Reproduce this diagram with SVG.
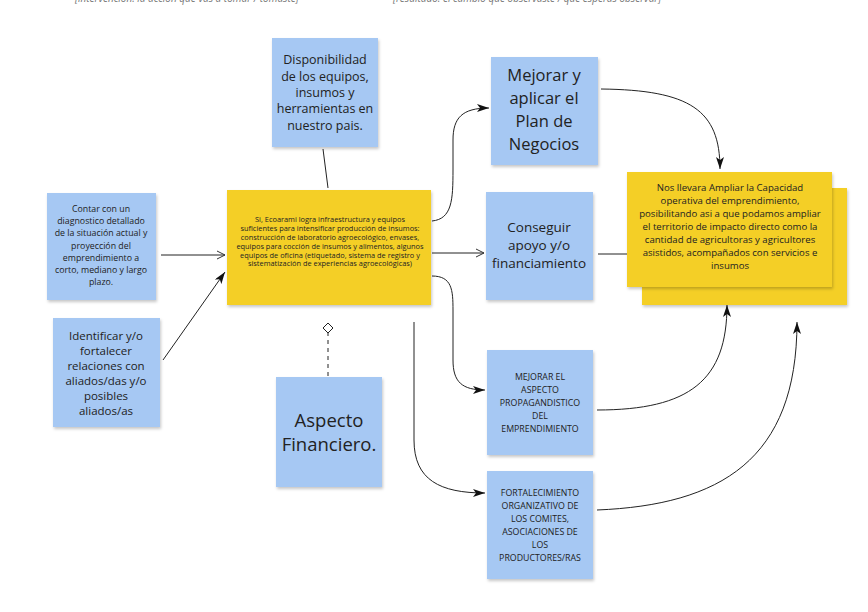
<svg xmlns="http://www.w3.org/2000/svg" width="868" height="612" viewBox="0 0 868 612">
<defs>
  <filter id="sh" x="-10%" y="-10%" width="130%" height="130%">
    <feDropShadow dx="1" dy="2" stdDeviation="1.5" flood-color="#000" flood-opacity="0.22"/>
  </filter>
  <marker id="fill" viewBox="0 0 12 8" refX="12" refY="4" markerWidth="12" markerHeight="8" markerUnits="userSpaceOnUse" orient="auto">
    <path d="M0,0 L12,4 L0,8 L3,4 Z" fill="#111"/>
  </marker>
  <marker id="open" viewBox="0 0 10 10" refX="9" refY="5" markerWidth="10" markerHeight="10" markerUnits="userSpaceOnUse" orient="auto">
    <path d="M1,1 L9,5 L1,9" fill="none" stroke="#333" stroke-width="1"/>
  </marker>
  <marker id="diam" viewBox="0 0 12 12" refX="11" refY="6" markerWidth="12" markerHeight="12" markerUnits="userSpaceOnUse" orient="auto">
    <path d="M1,6 L6,1 L11,6 L6,11 Z" fill="#fff" stroke="#222" stroke-width="1"/>
  </marker>
</defs>
<style>
  .blue{fill:#a6c8f3;filter:url(#sh)}
  .yel{fill:#f4cf26;filter:url(#sh)}
  text{font-family:"Open Sans","Noto Sans","Liberation Sans",sans-serif;text-anchor:middle;fill:#222}
  .c{fill:none;stroke:#222;stroke-width:1}
  .hdr{font-style:italic;fill:#777;font-size:10px;text-anchor:start}
</style>
<rect width="868" height="612" fill="#fff"/>
<text class="hdr" x="75" y="2">[intervención: la acción que vas a tomar / tomaste]</text>
<text class="hdr" x="393" y="2">[resultado: el cambio que observaste / que esperas observar]</text>

<g id="connectors">
  <path class="c" d="M161,255 L225,255" marker-end="url(#open)"/>
  <path class="c" d="M163,360 L225,272" marker-end="url(#fill)"/>
  <path class="c" d="M323,149 L328,188"/>
  <path class="c" d="M328,376 L328,323" stroke-dasharray="4,4" marker-end="url(#diam)"/>
  <path class="c" d="M432,221 C452,219 453,200 453,170 L453,140 C453,118 462,108 489,108" marker-end="url(#fill)"/>
  <path class="c" d="M432,253 L484,253" marker-end="url(#open)"/>
  <path class="c" d="M432,276 C452,276 453,290 453,310 L453,360 C453,382 462,390 485,390" marker-end="url(#fill)"/>
  <path class="c" d="M414,322 L414,440 C414,480 440,493 485,493" marker-end="url(#fill)"/>
  <path class="c" d="M601,89 C690,90 720,110 720,169" marker-end="url(#fill)"/>
  <path class="c" d="M598,254 L627,254" stroke="#888"/>
  <path class="c" d="M597,410 C690,410 727,380 727,305" marker-end="url(#fill)"/>
  <path class="c" d="M597,510 C720,505 797,460 797,322" marker-end="url(#fill)"/>
</g>

<g id="disponibilidad">
  <rect class="blue" x="272" y="38" width="106" height="109"/>
  <text font-size="12.5"><tspan x="325" y="64">Disponibilidad</tspan><tspan x="325" y="81">de los equipos,</tspan><tspan x="325" y="97">insumos y</tspan><tspan x="325" y="113">herramientas en</tspan><tspan x="325" y="130">nuestro pais.</tspan></text>
</g>

<g id="mejorar-plan">
  <rect class="blue" x="491" y="57" width="107" height="108"/>
  <text font-size="16.5"><tspan x="544" y="81">Mejorar y</tspan><tspan x="544" y="104">aplicar el</tspan><tspan x="544" y="127">Plan de</tspan><tspan x="544" y="150">Negocios</tspan></text>
</g>

<g id="conseguir">
  <rect class="blue" x="486" y="192" width="107" height="108"/>
  <text font-size="13.5"><tspan x="539" y="232">Conseguir</tspan><tspan x="539" y="250">apoyo y/o</tspan><tspan x="539" y="268">financiamiento</tspan></text>
</g>

<g id="central">
  <rect class="yel" x="227" y="190" width="204" height="115"/>
  <text font-size="7.4" fill="#2a2a2a"><tspan x="330" y="222">Si, Ecoarami logra infraestructura y equipos</tspan><tspan x="330" y="231">suficientes  para intensificar producción de insumos:</tspan><tspan x="330" y="240">construcción de laboratorio agroecológico, envases,</tspan><tspan x="330" y="249">equipos para cocción de insumos y alimentos, algunos</tspan><tspan x="330" y="257.5">equipos de oficina (etiquetado, sistema de registro y</tspan><tspan x="330" y="266">sistematización de experiencias agroecológicas)</tspan></text>
</g>

<g id="resultado">
  <rect class="yel" x="642" y="188" width="205" height="117"/>
  <rect class="yel" x="627" y="172" width="205" height="115"/>
  <text font-size="9.6"><tspan x="730" y="191">Nos llevara Ampliar la Capacidad</tspan><tspan x="730" y="204">operativa del emprendimiento,</tspan><tspan x="730" y="217">posibilitando asi a que podamos ampliar</tspan><tspan x="730" y="230">el territorio de impacto directo como la</tspan><tspan x="730" y="243">cantidad de agricultoras y agricultores</tspan><tspan x="730" y="256">asistidos, acompañados con servicios e</tspan><tspan x="730" y="269">insumos</tspan></text>
</g>

<g id="contar">
  <rect class="blue" x="47" y="193" width="109" height="107"/>
  <text font-size="8.8"><tspan x="101" y="212">Contar con un</tspan><tspan x="101" y="224">diagnostico detallado</tspan><tspan x="101" y="236">de la situación actual y</tspan><tspan x="101" y="249">proyección del</tspan><tspan x="101" y="261">emprendimiento a</tspan><tspan x="101" y="273">corto, mediano y largo</tspan><tspan x="101" y="285">plazo.</tspan></text>
</g>

<g id="identificar">
  <rect class="blue" x="53" y="318" width="107" height="109"/>
  <text font-size="11.5"><tspan x="106" y="340">Identificar y/o</tspan><tspan x="106" y="355">fortalecer</tspan><tspan x="106" y="370">relaciones con</tspan><tspan x="106" y="385">aliados/das y/o</tspan><tspan x="106" y="400">posibles</tspan><tspan x="106" y="415">aliados/as</tspan></text>
</g>

<g id="aspecto-financiero">
  <rect class="blue" x="276" y="377" width="106" height="110"/>
  <text font-size="18.5"><tspan x="329" y="427">Aspecto</tspan><tspan x="329" y="451">Financiero.</tspan></text>
</g>

<g id="propagandistico">
  <rect class="blue" x="487" y="350" width="106" height="105"/>
  <text font-size="8.8"><tspan x="540" y="380">MEJORAR EL</tspan><tspan x="540" y="393">ASPECTO</tspan><tspan x="540" y="406">PROPAGANDISTICO</tspan><tspan x="540" y="419">DEL</tspan><tspan x="540" y="432">EMPRENDIMIENTO</tspan></text>
</g>

<g id="fortalecimiento">
  <rect class="blue" x="487" y="471" width="106" height="108"/>
  <text font-size="8.8"><tspan x="540" y="496">FORTALECIMIENTO</tspan><tspan x="540" y="509">ORGANIZATIVO DE</tspan><tspan x="540" y="522">LOS COMITES,</tspan><tspan x="540" y="535">ASOCIACIONES DE</tspan><tspan x="540" y="548">LOS</tspan><tspan x="540" y="561">PRODUCTORES/RAS</tspan></text>
</g>
</svg>
